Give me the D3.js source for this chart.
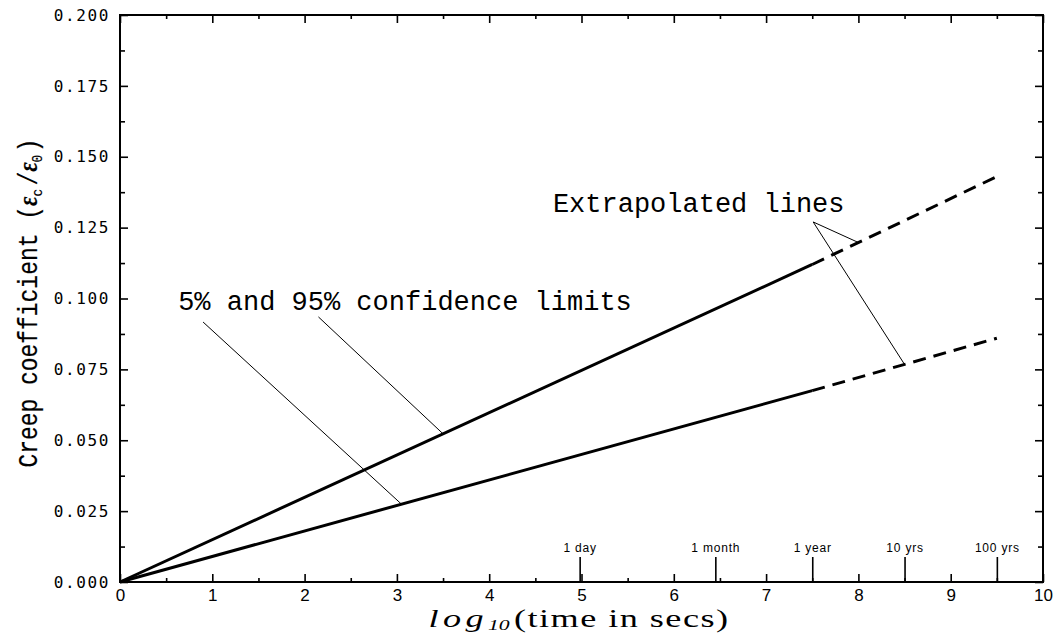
<!DOCTYPE html>
<html>
<head>
<meta charset="utf-8">
<script src="https://cdn.jsdelivr.net/npm/d3@7"></script>
<style>
  body { margin: 0; background: #fff; }
  svg { display: block; }
</style>
</head>
<body>
<div id="CreepPlot"></div>
<script>
// creep coefficient vs log10(time) -- confidence limit lines

// x positions of the line knots (log10 seconds)
var knotX = [0, 7.5, 9.5];
// 95% (upper) and 5% (lower) limits at the knots
var upperLimit = [0, 0.112, 0.143];
var lowerLimit = [0, 0.0675, 0.086];
// index where the measured part ends and the extrapolation starts
var solidEnd = 1;

// axis ticks
var xTicks = [0, 1, 2, 3, 4, 5, 6, 7, 8, 9, 10];
var xMinorTicks = [0.5, 1.5, 2.5, 3.5, 4.5, 5.5, 6.5, 7.5, 8.5, 9.5];
var yTicks = [0, 0.025, 0.05, 0.075, 0.1, 0.125, 0.15, 0.175, 0.2];
var yMinorTicks = [0.0125, 0.0375, 0.0625, 0.0875, 0.1125, 0.1375, 0.1625, 0.1875];

// time markers along the bottom
var timeLabels = ["1 day", "1 month", "1 year", "10 yrs", "100 yrs"];
var timeValues = [4.98, 6.45, 7.5, 8.5, 9.5];

// annotation texts and leader lines (start point, x where it meets a line)
var noteTexts = ["5% and 95% confidence limits", "Extrapolated lines"];
var noteAnchors = [[0.63, 0.0959], [4.69, 0.1305]];
var leaderStarts = [[0.9, 0.0917], [2.15, 0.0935], [7.51, 0.127], [7.51, 0.127]];
var leaderEndX = [3.05, 3.5, 8.0, 8.5];
var leaderOnUpper = [false, true, true, false];

//////////////////////////////////////////////////////////////////////
var myNS = {};
myNS.width = 1060;
myNS.height = 636;
myNS.left = 120;
myNS.right = 1043;
myNS.top = 15;
myNS.bottom = 582;

var svg = d3.select("#CreepPlot")
    .append("svg")
    .attr("width", myNS.width)
    .attr("height", myNS.height);

// scales
var xScale = d3.scaleLinear().domain([0, 10]).range([myNS.left, myNS.right]);
var yScale = d3.scaleLinear().domain([0, 0.2]).range([myNS.bottom, myNS.top]);

// value of each limit line at any x
var upperAt = d3.scaleLinear().domain(knotX).range(upperLimit);
var lowerAt = d3.scaleLinear().domain(knotX).range(lowerLimit);

makeAxes();
makeLines();
makeNotes();
makeLabels();

// frame and all four axes, ticks pointing inward
function makeAxes() {

    function style(g) {
        g.select(".domain").remove();
        g.selectAll(".tick line").attr("stroke", "#000").attr("stroke-width", 1.6);
    }

    // bottom
    svg.append("g")
        .attr("transform", "translate(0," + myNS.bottom + ")")
        .call(d3.axisBottom(xScale).tickValues(xTicks).tickSize(-8).tickPadding(19)
              .tickFormat(d3.format("d")))
        .call(style)
        .selectAll("text")
        .attr("font-family", "Liberation Sans, Arial, sans-serif")
        .attr("font-size", "17px")
        .attr("dy", 0)
        .attr("fill", "#000");
    svg.append("g")
        .attr("transform", "translate(0," + myNS.bottom + ")")
        .call(d3.axisBottom(xScale).tickValues(xMinorTicks).tickSize(-4).tickFormat(""))
        .call(style);

    // top
    svg.append("g")
        .attr("transform", "translate(0," + myNS.top + ")")
        .call(d3.axisTop(xScale).tickValues(xTicks).tickSize(-8).tickFormat(""))
        .call(style);
    svg.append("g")
        .attr("transform", "translate(0," + myNS.top + ")")
        .call(d3.axisTop(xScale).tickValues(xMinorTicks).tickSize(-4).tickFormat(""))
        .call(style);

    // left
    svg.append("g")
        .attr("transform", "translate(" + myNS.left + ",0)")
        .call(d3.axisLeft(yScale).tickValues(yTicks).tickSize(-8).tickPadding(10)
              .tickFormat(d3.format(".3f")))
        .call(style)
        .selectAll("text")
        .attr("font-family", "DejaVu Sans Mono, monospace")
        .attr("font-size", "16px")
        .attr("letter-spacing", "1.6px")
        .attr("fill", "#000");
    svg.append("g")
        .attr("transform", "translate(" + myNS.left + ",0)")
        .call(d3.axisLeft(yScale).tickValues(yMinorTicks).tickSize(-5).tickFormat(""))
        .call(style);

    // right
    svg.append("g")
        .attr("transform", "translate(" + myNS.right + ",0)")
        .call(d3.axisRight(yScale).tickValues(yTicks).tickSize(-8).tickFormat(""))
        .call(style);
    svg.append("g")
        .attr("transform", "translate(" + myNS.right + ",0)")
        .call(d3.axisRight(yScale).tickValues(yMinorTicks).tickSize(-5).tickFormat(""))
        .call(style);

    // time markers, long ticks with small labels above
    var timeAxis = d3.axisTop(xScale)
        .tickValues(timeValues)
        .tickSize(25)
        .tickPadding(5)
        .tickFormat(function(d, i) { return timeLabels[i]; });
    svg.append("g")
        .attr("transform", "translate(0," + myNS.bottom + ")")
        .call(timeAxis)
        .call(style)
        .selectAll("text")
        .attr("font-family", "Liberation Sans, Arial, sans-serif")
        .attr("font-size", "12px")
        .attr("letter-spacing", "0.8px")
        .attr("fill", "#000");

    // frame
    svg.append("rect")
        .attr("x", myNS.left)
        .attr("y", myNS.top)
        .attr("width", myNS.right - myNS.left)
        .attr("height", myNS.bottom - myNS.top)
        .attr("fill", "none")
        .attr("stroke", "#000")
        .attr("stroke-width", 2);
}

// the two limit lines, solid then dashed
function makeLines() {

    var line = d3.line()
        .x(function(d) { return xScale(d[0]); })
        .y(function(d) { return yScale(d[1]); });

    [upperLimit, lowerLimit].forEach(function(vals) {
        var pts = knotX.map(function(x, i) { return [x, vals[i]]; });
        svg.append("path")
            .attr("d", line(pts.slice(0, solidEnd + 1)))
            .attr("fill", "none")
            .attr("stroke", "#000")
            .attr("stroke-width", 3);
        svg.append("path")
            .attr("d", line(pts.slice(solidEnd)))
            .attr("fill", "none")
            .attr("stroke", "#000")
            .attr("stroke-width", 3)
            .attr("stroke-dasharray", "13,8");
    });
}

// annotation texts and thin leader lines
function makeNotes() {

    noteTexts.forEach(function(t, i) {
        svg.append("text")
            .attr("x", xScale(noteAnchors[i][0]))
            .attr("y", yScale(noteAnchors[i][1]))
            .attr("font-family", "Liberation Mono, Courier New, monospace")
            .attr("font-size", "27px")
            .attr("fill", "#000")
            .text(t);
    });

    leaderStarts.forEach(function(s, i) {
        var ex = leaderEndX[i];
        var ey = leaderOnUpper[i] ? upperAt(ex) : lowerAt(ex);
        svg.append("line")
            .attr("x1", xScale(s[0]))
            .attr("y1", yScale(s[1]))
            .attr("x2", xScale(ex))
            .attr("y2", yScale(ey))
            .attr("stroke", "#000")
            .attr("stroke-width", 1);
    });
}

// axis titles
function makeLabels() {

    // x label: log10(time in secs), wide serif
    var xl = svg.append("text")
        .attr("transform", "translate(579,627) scale(1.45,1)")
        .attr("text-anchor", "middle")
        .attr("font-family", "Liberation Serif, DejaVu Serif, serif")
        .attr("font-size", "25px")
        .attr("fill", "#000");
    xl.append("tspan").attr("font-style", "italic").attr("letter-spacing", "3px").text("log");
    xl.append("tspan").attr("font-style", "italic").attr("font-size", "15px")
        .attr("dy", 3).text("10");
    xl.append("tspan").attr("dy", -3).attr("dx", 3).attr("letter-spacing", "1px")
        .text("(time in secs)");

    // y label: Creep coefficient (eps_c / eps_0)
    var yl = svg.append("text")
        .attr("transform", "translate(37,303) rotate(-90) scale(0.85,1)")
        .attr("text-anchor", "middle")
        .attr("font-family", "Liberation Mono, Courier New, monospace")
        .attr("font-size", "27px")
        .attr("fill", "#000")
        .attr("stroke", "#000")
        .attr("stroke-width", 0.2);
    yl.append("tspan").text("Creep coefficient (");
    yl.append("tspan").attr("font-family", "Liberation Serif, serif")
        .attr("font-style", "italic").attr("font-weight", "bold").text("ε");
    yl.append("tspan").attr("font-size", "15px").attr("dy", 5).text("c");
    yl.append("tspan").attr("dy", -5).attr("dx", 4).text("/");
    yl.append("tspan").attr("font-family", "Liberation Serif, serif")
        .attr("font-style", "italic").attr("font-weight", "bold").text("ε");
    yl.append("tspan").attr("font-size", "15px").attr("dy", 5).text("0");
    yl.append("tspan").attr("dy", -5).attr("dx", 3).text(")");
}
</script>
</body>
</html>
